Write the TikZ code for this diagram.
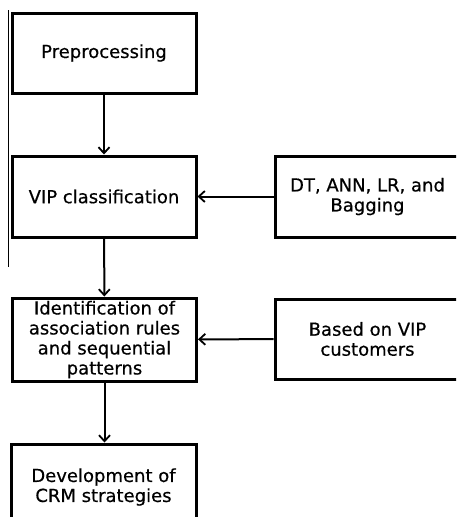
\documentclass[tikz,border=0pt]{standalone}
\usepackage{fontspec}
\setmainfont{DejaVu Sans}[FakeBold=0.5]
\usetikzlibrary{arrows.meta}
\begin{document}
\begin{tikzpicture}[x=1pt,y=-1pt,
  box/.style={draw=black, line width=3pt, minimum width=184pt, inner sep=0pt,
    align=center, text=black, font=\fontsize{18}{20}\selectfont},
  conn/.style={line width=2pt, -{Straight Barb[length=6pt,width=11pt,line width=1.8pt]}}]
\useasboundingbox (0,0) rectangle (456,517);
\clip (0,0) rectangle (456,517);
\fill[white] (0,0) rectangle (456,517);
\node[box, minimum height=80pt] (pre) at (104,53) {Preprocessing};
\node[box, minimum height=81pt] (vip) at (104,196.5) {VIP classification};
\node[box, minimum height=83pt] (ident) at (104.5,339.5) {Identification of\\association rules\\and sequential\\patterns};
\node[box, minimum height=86pt, minimum width=185pt] (dev) at (103.5,487) {Development of\\CRM strategies};
\node[box, minimum height=81pt, minimum width=185pt] (dt) at (367.5,196.5) {DT, ANN, LR, and\\Bagging};
\node[box, minimum height=80pt, minimum width=185pt] (based) at (367.5,339) {Based on VIP\\customers};
\coordinate (artA) at (8,10);
\coordinate (artB) at (8,267);
\draw[line width=1pt] (artA) -- (artB);
\draw[conn] (pre) -- (vip);
\draw[conn] (vip) -- (ident);
\draw[conn] (ident) -- (ident |- dev.north);
\draw[conn] (dt) -- (vip);
\draw[conn] (based) -- (ident);
\end{tikzpicture}
\end{document}
